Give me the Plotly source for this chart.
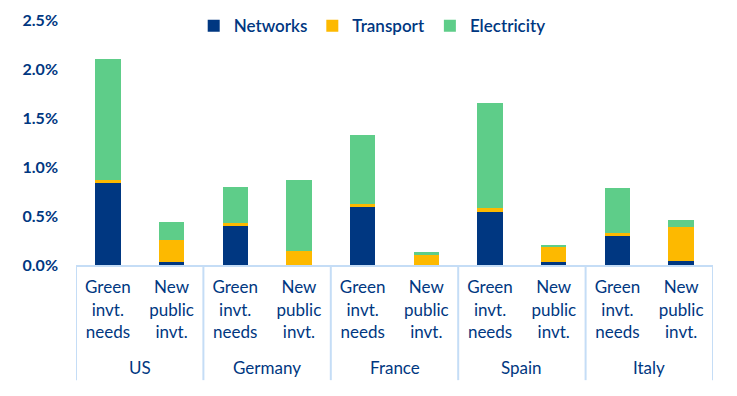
import plotly.graph_objects as go

countries = ["US", "Germany", "France", "Spain", "Italy"]
kinds = ["Green<br>invt.<br>needs", "New<br>public<br>invt."]
networks = [0.84, 0.03, 0.40, 0.00, 0.59, 0.00, 0.54, 0.03, 0.30, 0.04]
transport = [0.03, 0.225, 0.03, 0.14, 0.035, 0.11, 0.04, 0.16, 0.03, 0.35]
electricity = [1.23, 0.185, 0.37, 0.73, 0.70, 0.02, 1.07, 0.01, 0.46, 0.07]
y_ticks = [0, 0.5, 1.0, 1.5, 2.0, 2.5]
y_labels = ["0.0%", "0.5%", "1.0%", "1.5%", "2.0%", "2.5%"]

NAVY = "#003781"
LINE = "#C5DDF6"
FONT = "Lato"

n_k = len(kinds)
xpos = list(range(len(countries) * n_k))
tick_text = [kinds[i % n_k] for i in xpos]

fig = go.Figure()
for name, vals, col in [("Networks", networks, NAVY),
                        ("Transport", transport, "#FDB900"),
                        ("Electricity", electricity, "#5ECD89")]:
    fig.add_trace(go.Bar(x=xpos, y=vals, name=name,
                         marker=dict(color=col, line=dict(width=0)), width=0.4))

# group dividers and country labels
for g, c in enumerate(countries):
    fig.add_annotation(x=g * n_k + (n_k - 1) / 2, y=-0.42, xref="x", yref="paper",
                       text=c, showarrow=False, yanchor="middle",
                       font=dict(size=17, color=NAVY, family=FONT))
for g in range(len(countries) + 1):
    fig.add_shape(type="line", x0=g * n_k - 0.5, x1=g * n_k - 0.5, y0=0, y1=-0.47,
                  xref="x", yref="paper", line=dict(color=LINE, width=2), layer="below")

fig.update_layout(
    barmode="stack",
    width=737, height=396,
    margin=dict(l=68, r=32, t=12, b=139, autoexpand=False),
    plot_bgcolor="white", paper_bgcolor="white",
    font=dict(family=FONT, size=17, color=NAVY),
    legend=dict(orientation="h", x=0.465, xanchor="center", y=0.975, yanchor="middle",
                font=dict(size=17, color=NAVY, weight=600), traceorder="normal",
                itemwidth=30, bgcolor="rgba(0,0,0,0)"),
)
fig.update_yaxes(range=[0, 2.5], tickvals=y_ticks, ticktext=y_labels,
                 showgrid=False, zeroline=False, showline=False, automargin=False,
                 ticklabelstandoff=17,
                 tickfont=dict(size=16, color=NAVY, weight="bold"))
fig.update_xaxes(range=[-0.5, len(xpos) - 0.5], tickvals=xpos, ticktext=tick_text,
                 showline=True, linecolor=LINE, linewidth=2, automargin=False,
                 ticks="", ticklabelstandoff=6,
                 tickfont=dict(size=17, color=NAVY), showgrid=False, zeroline=False)

fig.write_html("out.html")
